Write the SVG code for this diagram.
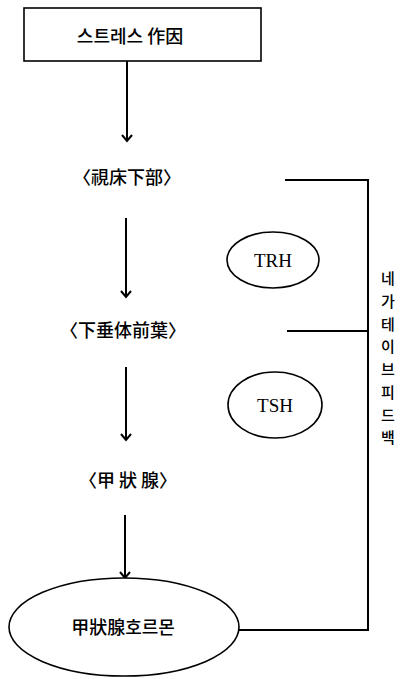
<svg xmlns="http://www.w3.org/2000/svg" width="402" height="679" viewBox="0 0 402 679">
<style>
.ln{stroke:#000;stroke-width:2;fill:none}
.sh{stroke:#000;stroke-width:1.6;fill:#fff}
.k{font-family:"Noto Sans CJK KR","Noto Sans CJK JP",sans-serif;fill:#000;font-weight:500}
.s{font-family:"Liberation Serif",serif;fill:#000}
</style>
<defs>
<marker id="ah" markerWidth="12" markerHeight="12" refX="10" refY="6" orient="auto" markerUnits="userSpaceOnUse" viewBox="0 0 12 12">
<path d="M4,1 L10,6 L4,11" fill="none" stroke="#000" stroke-width="2"/>
</marker>
</defs>
<rect width="402" height="679" fill="#fff"/>
<g id="connectors">
<line class="ln" x1="127" y1="61" x2="127" y2="141" marker-end="url(#ah)"/>
<line class="ln" x1="126" y1="218" x2="126" y2="297" marker-end="url(#ah)"/>
<line class="ln" x1="126" y1="367" x2="126" y2="440" marker-end="url(#ah)"/>
<line class="ln" x1="125" y1="515" x2="125" y2="578" marker-end="url(#ah)"/>
<polyline class="ln" points="285,180 368,180 368,630 239,630"/>
<line class="ln" x1="287" y1="331" x2="368" y2="331"/>
</g>
<g id="stress">
<rect x="24" y="8" width="237" height="53" class="sh" stroke-width="2.2"/>
<text class="k" x="130" y="43" font-size="18" text-anchor="middle">스트레스 作因</text>
</g>
<g id="hypothalamus">
<text class="k" x="127" y="184" font-size="18" text-anchor="middle">〈視床下部〉</text>
</g>
<g id="trh">
<ellipse cx="273" cy="260" rx="46" ry="28" class="sh"/>
<text class="s" x="273" y="267" font-size="19" text-anchor="middle">TRH</text>
</g>
<g id="pituitary">
<text class="k" x="123" y="337" font-size="18" text-anchor="middle">〈下垂体前葉〉</text>
</g>
<g id="tsh">
<ellipse cx="275" cy="405" rx="47" ry="33" class="sh"/>
<text class="s" x="275" y="412" font-size="19" text-anchor="middle">TSH</text>
</g>
<g id="thyroid">
<text class="k" x="128" y="487" font-size="18" text-anchor="middle">〈甲 狀 腺〉</text>
</g>
<g id="hormone">
<ellipse cx="124" cy="627" rx="115" ry="49" class="sh"/>
<text class="k" x="123" y="634" font-size="18" text-anchor="middle">甲狀腺호르몬</text>
</g>
<g id="feedback-label" class="k" font-size="15" text-anchor="middle">
<text x="388" y="284">네</text>
<text x="388" y="307">가</text>
<text x="388" y="330">테</text>
<text x="388" y="352">이</text>
<text x="388" y="375">브</text>
<text x="388" y="398">피</text>
<text x="388" y="421">드</text>
<text x="388" y="443">백</text>
</g>
</svg>
